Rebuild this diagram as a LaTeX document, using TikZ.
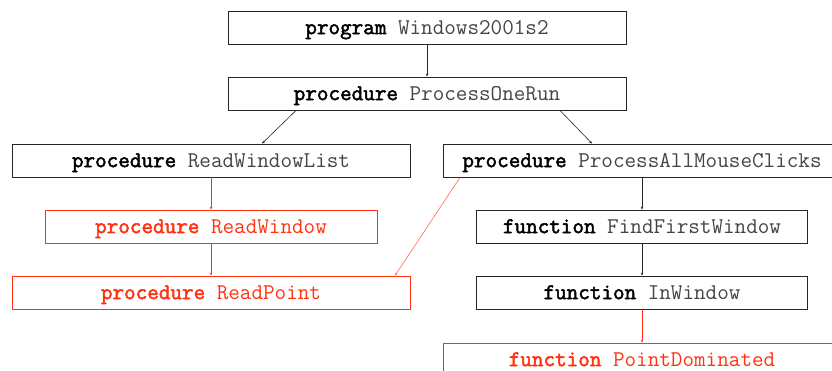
\documentclass[tikz,border=0pt]{standalone}
\usepackage{fontspec}
\usetikzlibrary{arrows.meta,calc}
\newfontfamily\kwfont{Latin Modern Mono}[FakeBold=2.2]
\definecolor{callred}{HTML}{FF3311}
\definecolor{namegray}{HTML}{444444}
\newcommand{\unit}[2]{{\kwfont #1}\ {\color{namegray}#2}}
\newcommand{\redunit}[2]{{\kwfont #1}\ #2}
\tikzset{
  unitbox/.style={draw=black!85, line width=0.9pt, minimum height=33pt, inner sep=0pt,
    text height=15.5pt, text depth=2.2pt,
    font=\ttfamily\fontsize{22.5}{24}\selectfont, text=black},
  newbox/.style={unitbox, draw=callred, text=callred},
  call/.style={draw=black!85, line width=0.6pt, -{Stealth[length=3pt,width=2.5pt]}},
  newcall/.style={call, draw=callred, fill=callred},
}
\begin{document}
\begin{tikzpicture}[x=1pt,y=-1pt]
  \useasboundingbox (0,0) rectangle (832,371);
  \clip (0,0) rectangle (832,371);
  \fill[white] (0,0) rectangle (832,371);

  % units of the program
  \node[unitbox, minimum width=398pt] (prog) at (427,27.5) {\unit{program}{Windows2001s2}};
  \node[unitbox, minimum width=398pt] (por)  at (427,93.5) {\unit{procedure}{ProcessOneRun}};
  \node[unitbox, minimum width=398pt] (rwl)  at (211,160.5) {\unit{procedure}{ReadWindowList}};
  \node[unitbox, minimum width=398pt] (pamc) at (642,160.5) {\unit{procedure}{ProcessAllMouseClicks}};
  \node[newbox,  minimum width=332pt] (rw)   at (211,226.5) {\redunit{procedure}{ReadWindow}};
  \node[newbox,  minimum width=398pt] (rp)   at (211,292.5) {\redunit{procedure}{ReadPoint}};
  \node[unitbox, minimum width=331pt] (ffw)  at (642,226.5) {\unit{function}{FindFirstWindow}};
  \node[unitbox, minimum width=331pt] (inw)  at (642,292.5) {\unit{function}{InWindow}};
  \node[newbox,  minimum width=398pt] (pd)   at (642,359.5) {\redunit{function}{PointDominated}};

  % calls
  \draw[call] (prog.south) -- (por.north);
  \draw[call] ([xshift=-131pt]por.south) -- ([xshift=51pt]rwl.north);
  \draw[call] ([xshift=133pt]por.south) -- ([xshift=-50pt]pamc.north);
  \draw[newcall] (rwl.south) -- (rw.north);
  \draw[newcall] (rw.south) -- (rp.north);
  \draw[newcall, draw=callred!70, line width=0.5pt] ([xshift=-182pt]pamc.south) -- ([xshift=184pt]rp.north);
  \draw[call] (pamc.south) -- (ffw.north);
  \draw[call] (ffw.south) -- (inw.north);
  \draw[newcall] (inw.south) -- (pd.north);
\end{tikzpicture}
\end{document}
